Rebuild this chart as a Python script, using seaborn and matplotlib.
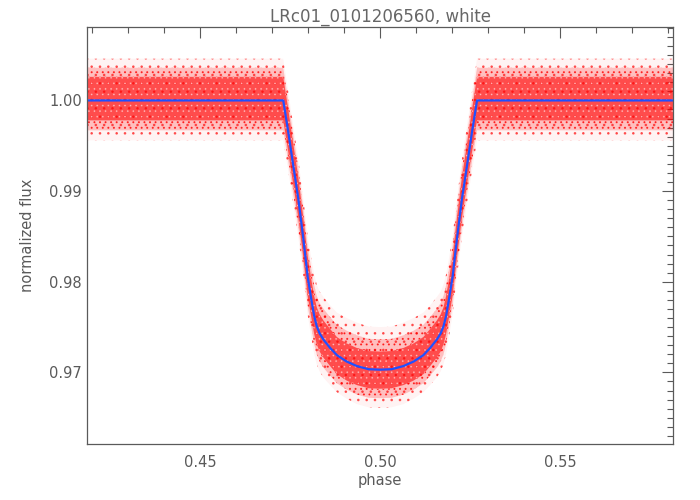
import numpy as np
import pandas as pd
import seaborn as sns
import matplotlib.pyplot as plt
from matplotlib.ticker import MultipleLocator

# transit model (phase, normalized flux)
phase = [0.4187, 0.4731, 0.4745, 0.4760, 0.4773, 0.4786, 0.4799, 0.4810, 0.4817,
         0.4824, 0.4832, 0.4843, 0.4861, 0.4880, 0.4907, 0.4935, 0.4968, 0.5000,
         0.5032, 0.5065, 0.5093, 0.5120, 0.5139, 0.5157, 0.5168, 0.5176,
         0.5183, 0.5190, 0.5201, 0.5214, 0.5227, 0.5240, 0.5255, 0.5269, 0.5813]
model = [1.0000, 1.0000, 0.9965, 0.9925, 0.9891, 0.9850, 0.9805, 0.9778, 0.9762,
         0.9751, 0.9743, 0.9736, 0.9727, 0.9719, 0.9712, 0.9707, 0.97035, 0.9703,
         0.97035, 0.9707, 0.9712, 0.9719, 0.9727, 0.9736, 0.9743, 0.9751,
         0.9762, 0.9778, 0.9805, 0.9850, 0.9891, 0.9925, 0.9965, 1.0000, 1.0000]

# spread of the red data cloud around the model (dense core / sparse outliers)
core_up = [0.0026, 0.0026, 0.0025, 0.0024, 0.0024, 0.0023, 0.0023, 0.0022, 0.0022,
           0.0021, 0.0021, 0.0021, 0.0021, 0.0020, 0.0020, 0.0020, 0.0020, 0.0020,
           0.0020, 0.0020, 0.0020, 0.0020, 0.0021, 0.0021, 0.0021, 0.0021,
           0.0022, 0.0022, 0.0023, 0.0023, 0.0024, 0.0024, 0.0025, 0.0026, 0.0026]
core_down = [0.0022, 0.0022, 0.0022, 0.0021, 0.0021, 0.0021, 0.0021, 0.0020, 0.0020,
             0.0020, 0.0020, 0.0020, 0.0020, 0.0021, 0.0021, 0.0021, 0.0021, 0.0021,
             0.0021, 0.0021, 0.0021, 0.0021, 0.0020, 0.0020, 0.0020, 0.0020,
             0.0020, 0.0020, 0.0021, 0.0021, 0.0021, 0.0021, 0.0022, 0.0022, 0.0022]
outer_up = [0.0046, 0.0046, 0.0045, 0.0044, 0.0044, 0.0044, 0.0045, 0.0045, 0.0046,
            0.0046, 0.0046, 0.0047, 0.0047, 0.0047, 0.0048, 0.0048, 0.0047, 0.0047,
            0.0047, 0.0048, 0.0048, 0.0047, 0.0047, 0.0047, 0.0046, 0.0046,
            0.0046, 0.0045, 0.0045, 0.0044, 0.0044, 0.0044, 0.0045, 0.0046, 0.0046]
outer_down = [0.0044, 0.0044, 0.0043, 0.0042, 0.0042, 0.0042, 0.0042, 0.0042, 0.0042,
              0.0042, 0.0042, 0.0042, 0.0041, 0.0041, 0.0041, 0.0042, 0.0042, 0.0042,
              0.0042, 0.0042, 0.0041, 0.0041, 0.0041, 0.0042, 0.0042, 0.0042,
              0.0042, 0.0042, 0.0042, 0.0042, 0.0042, 0.0042, 0.0043, 0.0044, 0.0044]

title = 'LRc01_0101206560, white'

df = pd.DataFrame({'phase': phase, 'flux': model})
m = np.array(model)
cu, cd = np.array(core_up), np.array(core_down)
ou, od = np.array(outer_up), np.array(outer_down)
mu, md = (cu + ou) / 2, (cd + od) / 2

sns.set_style('white')
plt.rcParams['font.family'] = ['DejaVu Sans']
plt.rcParams['hatch.linewidth'] = 0.7
grey = '#5a5a5a'

fig = plt.figure(figsize=(7, 5), dpi=100)
ax = fig.add_axes([0.1247, 0.112, 0.8367, 0.834])

# data cloud: sparse outliers, mid layer, dense core
ax.fill_between(phase, m - od, m + ou, facecolor=(1, 0.2, 0.2, 0.06),
                edgecolor=(1, 0, 0, 0.55), hatch='..', linewidth=0)
ax.fill_between(phase, m - md, m + mu, facecolor=(1, 0.1, 0.1, 0.24),
                edgecolor=(1, 0, 0, 0.7), hatch='...', linewidth=0)
ax.fill_between(phase, m - cd, m + cu, facecolor=(1, 0.0, 0.0, 0.6),
                edgecolor=(1, 1, 1, 0.5), hatch='...', linewidth=0)

sns.lineplot(data=df, x='phase', y='flux', color='#1f50ff', linewidth=1.6, ax=ax)

ax.set_xlim(0.4187, 0.5813)
ax.set_ylim(0.9621, 1.0081)
ax.xaxis.set_major_locator(MultipleLocator(0.05))
ax.xaxis.set_minor_locator(MultipleLocator(0.01))
ax.yaxis.set_major_locator(MultipleLocator(0.01))
ax.yaxis.set_minor_locator(MultipleLocator(0.001))
ax.xaxis.set_major_formatter(plt.FormatStrFormatter('%.2f'))
ax.yaxis.set_major_formatter(plt.FormatStrFormatter('%.2f'))

ax.tick_params(which='both', direction='in', top=True, right=True,
               color=grey, width=0.8, labelcolor=grey, labelsize=10.5)
ax.tick_params(which='major', length=8)
ax.tick_params(which='minor', length=4)
ax.tick_params(axis='x', which='major', pad=8)
ax.tick_params(axis='y', which='major', pad=4)
for s in ax.spines.values():
    s.set_color(grey)
    s.set_linewidth(0.9)

ax.set_xlabel('phase', color=grey, fontsize=10.5, labelpad=2)
ax.set_ylabel('normalized flux', color=grey, fontsize=10.5, labelpad=10)
ax.set_title(title, color='#666666', fontsize=12, pad=4)

fig.savefig('out.png', dpi=100)
